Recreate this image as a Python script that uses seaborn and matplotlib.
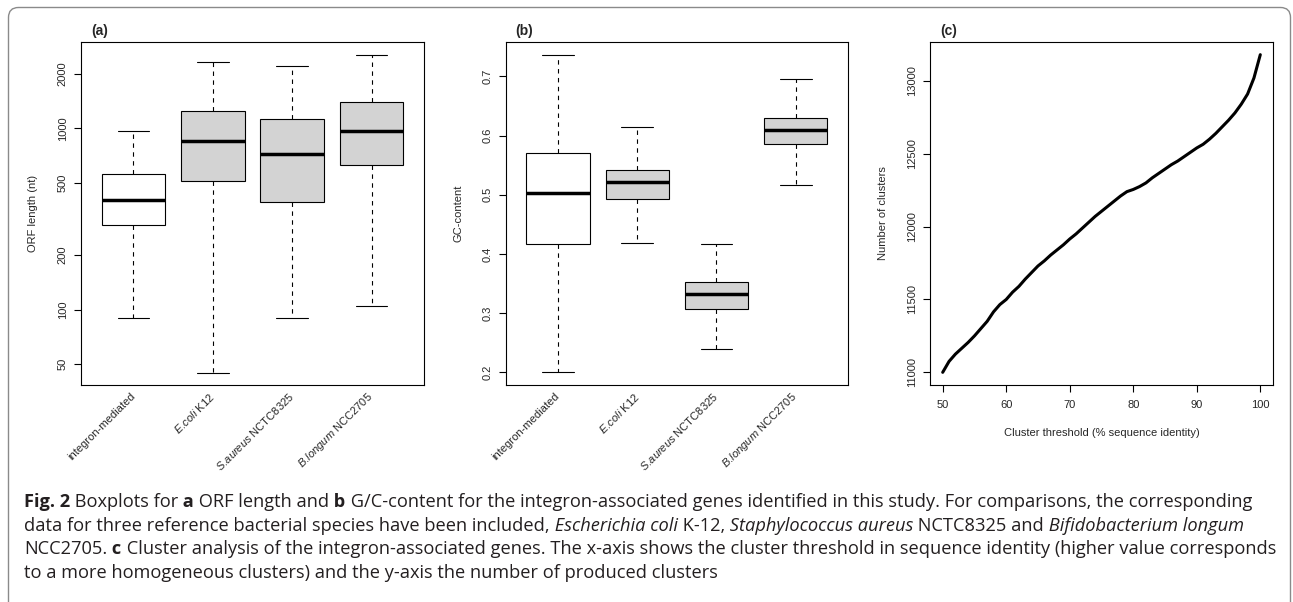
import matplotlib
matplotlib.use("Agg")
import matplotlib.pyplot as plt
from matplotlib.patches import FancyBboxPatch
from matplotlib.ticker import NullLocator
from matplotlib.transforms import IdentityTransform
from matplotlib.offsetbox import TextArea, HPacker, AnchoredOffsetbox
import pandas as pd
import seaborn as sns

# ---- data ----
groups = ["integron-mediated", "E.coli K12", "S.aureus NCTC8325", "B.longum NCC2705"]
group_labels = ["integron-mediated", r"$\mathit{E.\!coli}$ K12",
                r"$\mathit{S.\!aureus}$ NCTC8325", r"$\mathit{B.\!longum}$ NCC2705"]
fills = ["white", "lightgray", "lightgray", "lightgray"]

# (a) ORF length (nt): whisker ends, quartiles and medians
orf_low = [90, 45, 90, 105]
orf_q1 = [292, 514, 393, 630]
orf_med = [402, 851, 722, 967]
orf_q3 = [562, 1241, 1121, 1396]
orf_high = [967, 2329, 2203, 2535]

# (b) GC-content
gc_low = [0.200, 0.419, 0.240, 0.517]
gc_q1 = [0.416, 0.493, 0.307, 0.585]
gc_med = [0.503, 0.521, 0.332, 0.609]
gc_q3 = [0.570, 0.541, 0.352, 0.630]
gc_high = [0.736, 0.614, 0.416, 0.695]

# (c) cluster analysis
threshold = list(range(50, 101))
clusters = [11000, 11075, 11125, 11165, 11205, 11250, 11300, 11350, 11415, 11465,
            11500, 11550, 11590, 11640, 11685, 11730, 11765, 11805, 11840, 11875,
            11915, 11950, 11990, 12030, 12070, 12105, 12140, 12175, 12210, 12240,
            12255, 12275, 12300, 12335, 12365, 12395, 12425, 12450, 12480, 12510,
            12540, 12565, 12600, 12640, 12685, 12730, 12780, 12840, 12910, 13020,
            13180]

orf_ticks = [50, 100, 200, 500, 1000, 2000]
gc_ticks = [0.2, 0.3, 0.4, 0.5, 0.6, 0.7]
thr_ticks = [50, 60, 70, 80, 90, 100]
clu_ticks = [11000, 11500, 12000, 12500, 13000]

# caption pieces: (text, style) with r = regular, b = bold, i = italic
caption = [
    [("Fig. 2", "b"), (" Boxplots for", "r"), (" a", "b"), (" ORF length and", "r"),
     (" b", "b"), (" G/C-content for the integron-associated genes identified in this "
                   "study. For comparisons, the corresponding", "r")],
    [("data for three reference bacterial species have been included,", "r"),
     (" Escherichia coli", "i"), (" K-12,", "r"), (" Staphylococcus aureus", "i"),
     (" NCTC8325 and", "r"), (" Bifidobacterium longum", "i")],
    [("NCC2705.", "r"), (" c", "b"), (" Cluster analysis of the integron-associated genes. "
                                     "The x-axis shows the cluster threshold in sequence "
                                     "identity (higher value corresponds", "r")],
    [("to a more homogeneous clusters) and the y-axis the number of produced clusters", "r")],
]

sns.set_style("ticks")
plt.rcParams["font.family"] = ["Liberation Sans", "DejaVu Sans"]
plt.rcParams["mathtext.fontset"] = "custom"
plt.rcParams["mathtext.rm"] = "Liberation Sans"
plt.rcParams["mathtext.it"] = "Liberation Sans:italic"
plt.rcParams["mathtext.bf"] = "Liberation Sans:bold"

W, H = 1293, 602
fig = plt.figure(figsize=(W / 100, H / 100), dpi=100)


def px_axes(left, top, right, bottom):
    return fig.add_axes([left / W, 1 - bottom / H, (right - left) / W, (bottom - top) / H])


def long_table(stats):
    rows = []
    for g, vals in zip(groups, zip(*stats)):
        for v in vals:
            rows.append((g, v))
    return pd.DataFrame(rows, columns=["group", "value"])


def style_axes(ax, ylabel):
    for s in ax.spines.values():
        s.set_visible(True)
        s.set_color("black")
        s.set_linewidth(0.8)
    ax.tick_params(axis="y", length=5, width=0.8, pad=4.5, labelsize=8, color="black")
    ax.yaxis.set_minor_locator(NullLocator())
    plt.setp(ax.get_yticklabels(), rotation=90, va="center")
    ax.set_ylabel(ylabel, fontsize=8)
    ax.yaxis.set_label_coords(-42.5 / 343, 0.5)


def draw_box(ax, df, log):
    sns.boxplot(data=df, x="group", y="value", hue="group", palette=fills,
                saturation=1, width=0.8, whis=(0, 100), linecolor="black",
                linewidth=0.8, showfliers=False, legend=False, log_scale=log,
                medianprops={"linewidth": 2.5},
                whiskerprops={"linestyle": (0, (4, 4))}, ax=ax)
    ax.set_xlim(0.5 - 1 - 0.16, 4.5 - 1 + 0.16)
    ax.set_xlabel("")
    ax.set_xticks(range(len(groups)), labels=group_labels)
    ax.tick_params(axis="x", length=0, pad=7, labelsize=8)
    for lab in ax.get_xticklabels():
        lab.set_rotation(45)
        lab.set_ha("right")
        lab.set_va("center")
        lab.set_rotation_mode("anchor")


def caption_line(pieces, fs):
    kids = []
    for text, style in pieces:
        props = dict(family="Open Sans", fontsize=fs, color="#231f20")
        if style == "b":
            props["fontweight"] = "bold"
        if style == "i":
            props["fontstyle"] = "italic"
        kids.append(TextArea(text, textprops=props))
    return HPacker(children=kids, align="baseline", pad=0, sep=0)


def place_caption(fs):
    boxes = []
    for pieces, yb in zip(caption, baselines):
        bottom = yb + 0.24 * fs * 100 / 72
        box = AnchoredOffsetbox(loc="lower left", child=caption_line(pieces, fs),
                                pad=0, borderpad=0, frameon=False,
                                bbox_to_anchor=(24 / W, 1 - bottom / H),
                                bbox_transform=fig.transFigure)
        fig.add_artist(box)
        boxes.append(box)
    return boxes


ax_a = px_axes(81, 42, 424, 385)
ax_b = px_axes(505.7, 42, 848, 385)
ax_c = px_axes(930, 42, 1273, 385)

# (a)
draw_box(ax_a, long_table([orf_low, orf_q1, orf_med, orf_q3, orf_high]), True)
ax_a.set_ylim(38.4, 2992)
ax_a.set_yticks(orf_ticks, labels=[str(t) for t in orf_ticks])
style_axes(ax_a, "ORF length (nt)")

# (b)
draw_box(ax_b, long_table([gc_low, gc_q1, gc_med, gc_q3, gc_high]), False)
ax_b.set_ylim(0.1785, 0.758)
ax_b.set_yticks(gc_ticks, labels=[f"{t:.1f}" for t in gc_ticks])
style_axes(ax_b, "GC-content")

# (c)
sns.lineplot(x=threshold, y=clusters, color="black", linewidth=2.2, ax=ax_c)
ax_c.set_xlim(48, 102)
ax_c.set_ylim(10913, 13267)
ax_c.set_xticks(thr_ticks, labels=[str(t) for t in thr_ticks])
ax_c.set_yticks(clu_ticks, labels=[str(t) for t in clu_ticks])
ax_c.tick_params(axis="x", length=5, width=0.8, pad=5.5, labelsize=8, color="black")
ax_c.set_xlabel("Cluster threshold (% sequence identity)", fontsize=8)
ax_c.xaxis.set_label_coords(0.5, -42.5 / 343)
style_axes(ax_c, "Number of clusters")

for ax, tag, left in [(ax_a, "(a)", 81), (ax_b, "(b)", 505.7), (ax_c, "(c)", 930)]:
    fig.text((left + 10) / W, 1 - 31 / H, tag, fontsize=10, fontweight="bold",
             ha="left", va="center")

# caption, sized so that the first line spans the same width as in the original
baselines = [507, 531, 554, 578]
boxes = place_caption(14)
fig.canvas.draw()
renderer = fig.canvas.get_renderer()
scale = 1240 / boxes[0].get_window_extent(renderer).width
for b in boxes:
    b.remove()
place_caption(14 * scale)

# rounded frame around the figure
frame = FancyBboxPatch((8.5, -30), 1282, H - 7.5 + 30,
                       boxstyle="round,pad=0,rounding_size=10",
                       transform=IdentityTransform(), fill=False,
                       edgecolor="#8a8a8a", linewidth=1.0)
fig.add_artist(frame)

fig.savefig("out.png", dpi=100)
